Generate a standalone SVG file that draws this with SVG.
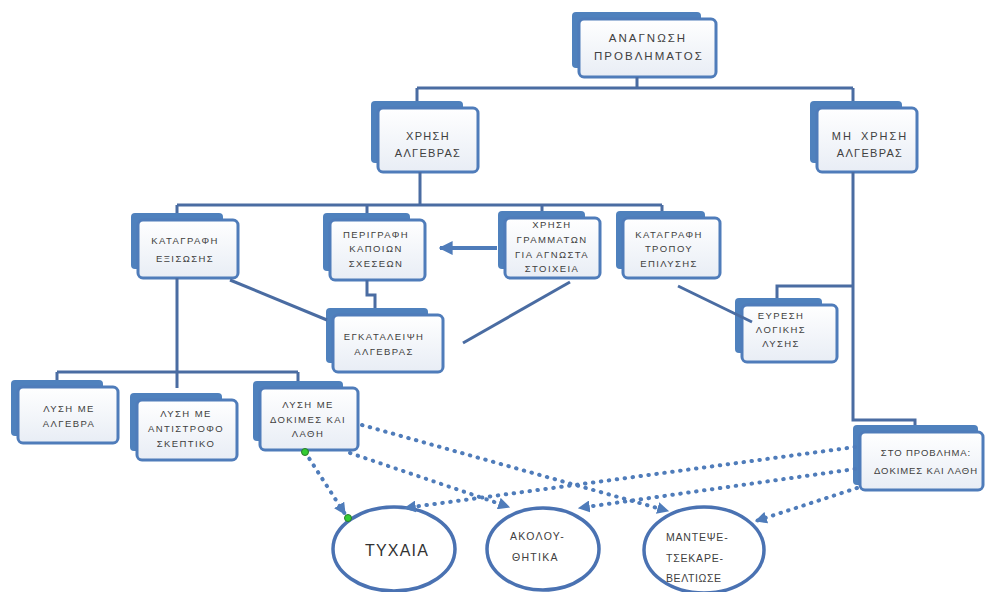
<svg xmlns="http://www.w3.org/2000/svg" width="986" height="592" viewBox="0 0 986 592">
<defs>
<linearGradient id="g" x1="0" y1="0" x2="0" y2="1">
<stop offset="0" stop-color="#ffffff"/>
<stop offset="1" stop-color="#e8edf5"/>
</linearGradient>
<marker id="ah" viewBox="0 0 10 10" refX="9" refY="5" markerWidth="12" markerHeight="12" markerUnits="userSpaceOnUse" orient="auto">
<path d="M0,0 L10,5 L0,10 Z" fill="#4f7cba"/>
</marker>
<marker id="ah2" viewBox="0 0 10 10" refX="9" refY="5" markerWidth="14" markerHeight="14" markerUnits="userSpaceOnUse" orient="auto">
<path d="M0,0 L10,5 L0,10 Z" fill="#4f7cba"/>
</marker>
</defs>
<style>
.bk{fill:#4f81bd}
.fr{fill:url(#g);stroke:#4f7cba;stroke-width:3}
.t{font-family:"Liberation Sans",Arial,sans-serif;fill:#404040;text-anchor:middle}
.t1{font-size:11.5px;letter-spacing:2px}
.t2{font-size:11px;letter-spacing:1.3px}
.t3{font-size:9.5px;letter-spacing:1.4px}
.el{fill:#ffffff;stroke:#4a72b2;stroke-width:3.5}
.te{font-family:"Liberation Sans",Arial,sans-serif;fill:#404040;font-size:10.5px;letter-spacing:1.3px}
.tree{fill:none;stroke:#4a6ca2;stroke-width:3}
.dot{fill:none;stroke:#4f7cba;stroke-width:4;stroke-linecap:round;stroke-dasharray:0.5 7.5;marker-end:url(#ah)}
.hd{fill:#33cc33;stroke:#2a7a2a;stroke-width:1}
</style>
<rect width="986" height="592" fill="#ffffff"/>

<g id="n1">
<rect class="bk" x="572" y="12" width="129" height="56" rx="4"/>
<rect class="fr" x="579" y="19" width="137" height="58" rx="5"/>
<text class="t t1" x="648" y="42">ΑΝΑΓΝΩΣΗ</text>
<text class="t t1" x="649" y="60">ΠΡΟΒΛΗΜΑΤΟΣ</text>
</g>
<g id="n2">
<rect class="bk" x="371" y="101" width="92" height="62" rx="4"/>
<rect class="fr" x="378" y="108" width="100" height="64" rx="5"/>
<text class="t t2" x="428" y="140">ΧΡΗΣΗ</text>
<text class="t t2" x="428" y="157">ΑΛΓΕΒΡΑΣ</text>
</g>
<g id="n3">
<rect class="bk" x="810" y="101" width="92" height="62" rx="4"/>
<rect class="fr" x="817" y="108" width="100" height="64" rx="5"/>
<text class="t t2" x="870" y="140" style="letter-spacing:2px;word-spacing:3px">ΜΗ ΧΡΗΣΗ</text>
<text class="t t2" x="870" y="157">ΑΛΓΕΒΡΑΣ</text>
</g>
<g id="n4">
<rect class="bk" x="131" y="213" width="92" height="56" rx="4"/>
<rect class="fr" x="138" y="220" width="100" height="58" rx="5"/>
<text class="t t3" x="185" y="244">ΚΑΤΑΓΡΑΦΗ</text>
<text class="t t3" x="185" y="262">ΕΞΙΣΩΣΗΣ</text>
</g>
<g id="n5">
<rect class="bk" x="323" y="213" width="87" height="58" rx="4"/>
<rect class="fr" x="330" y="220" width="95" height="60" rx="5"/>
<text class="t t3" x="376" y="238">ΠΕΡΙΓΡΑΦΗ</text>
<text class="t t3" x="376" y="252">ΚΑΠΟΙΩΝ</text>
<text class="t t3" x="376" y="267">ΣΧΕΣΕΩΝ</text>
</g>
<g id="n6">
<rect class="bk" x="498" y="211" width="87" height="58" rx="4"/>
<rect class="fr" x="505" y="218" width="95" height="60" rx="5"/>
<text class="t t3" x="552" y="228">ΧΡΗΣΗ</text>
<text class="t t3" x="552" y="243">ΓΡΑΜΜΑΤΩΝ</text>
<text class="t t3" x="552" y="258">ΓΙΑ ΑΓΝΩΣΤΑ</text>
<text class="t t3" x="552" y="272">ΣΤΟΙΧΕΙΑ</text>
</g>
<g id="n7">
<rect class="bk" x="616" y="211" width="89" height="58" rx="4"/>
<rect class="fr" x="623" y="218" width="97" height="60" rx="5"/>
<text class="t t3" x="669" y="238">ΚΑΤΑΓΡΑΦΗ</text>
<text class="t t3" x="669" y="252">ΤΡΟΠΟΥ</text>
<text class="t t3" x="669" y="267">ΕΠΙΛΥΣΗΣ</text>
</g>
<g id="n8">
<rect class="bk" x="326" y="308" width="102" height="55" rx="4"/>
<rect class="fr" x="333" y="315" width="110" height="57" rx="5"/>
<text class="t t3" x="384" y="340">ΕΓΚΑΤΑΛΕΙΨΗ</text>
<text class="t t3" x="384" y="355">ΑΛΓΕΒΡΑΣ</text>
</g>
<g id="n9">
<rect class="bk" x="735" y="298" width="87" height="55" rx="4"/>
<rect class="fr" x="742" y="305" width="95" height="57" rx="5"/>
<text class="t t3" x="781" y="319">ΕΥΡΕΣΗ</text>
<text class="t t3" x="781" y="333">ΛΟΓΙΚΗΣ</text>
<text class="t t3" x="781" y="347">ΛΥΣΗΣ</text>
</g>
<g id="n10">
<rect class="bk" x="11" y="380" width="92" height="56" rx="4"/>
<rect class="fr" x="18" y="387" width="100" height="56" rx="5"/>
<text class="t t3" x="69" y="412">ΛΥΣΗ ΜΕ</text>
<text class="t t3" x="69" y="427">ΑΛΓΕΒΡΑ</text>
</g>
<g id="n11">
<rect class="bk" x="130" y="393" width="92" height="58" rx="4"/>
<rect class="fr" x="137" y="400" width="100" height="60" rx="5"/>
<text class="t t3" x="186" y="417">ΛΥΣΗ ΜΕ</text>
<text class="t t3" x="186" y="432">ΑΝΤΙΣΤΡΟΦΟ</text>
<text class="t t3" x="186" y="447">ΣΚΕΠΤΙΚΟ</text>
</g>
<g id="n12">
<rect class="bk" x="253" y="381" width="90" height="60" rx="4"/>
<rect class="fr" x="260" y="388" width="98" height="62" rx="5"/>
<text class="t t3" x="308" y="408">ΛΥΣΗ ΜΕ</text>
<text class="t t3" x="308" y="423">ΔΟΚΙΜΕΣ ΚΑΙ</text>
<text class="t t3" x="308" y="437">ΛΑΘΗ</text>
</g>
<g id="n13">
<rect class="bk" x="853" y="425" width="125" height="60" rx="4"/>
<rect class="fr" x="860" y="432" width="123" height="58" rx="5"/>
<text class="t t3" x="926" y="456" style="letter-spacing:0.9px">ΣΤΟ ΠΡΟΒΛΗΜΑ:</text>
<text class="t t3" x="926" y="474" style="letter-spacing:0.9px">ΔΟΚΙΜΕΣ ΚΑΙ ΛΑΘΗ</text>
</g>

<g id="e1">
<ellipse class="el" cx="394" cy="549" rx="61" ry="42"/>
<text class="te" x="397" y="556" text-anchor="middle" style="font-size:16px;fill:#333333;letter-spacing:1.2px">ΤΥΧΑΙΑ</text>
</g>
<g id="e2">
<ellipse class="el" cx="543" cy="549" rx="56" ry="41"/>
<text class="te" x="510" y="540">ΑΚΟΛΟΥ-</text>
<text class="te" x="512" y="561">ΘΗΤΙΚΑ</text>
</g>
<g id="e3">
<ellipse class="el" cx="704" cy="550" rx="60" ry="43"/>
<text class="te" x="666" y="541" style="letter-spacing:0.8px">ΜΑΝΤΕΨΕ-</text>
<text class="te" x="666" y="562" style="letter-spacing:0.8px">ΤΣΕΚΑΡΕ-</text>
<text class="te" x="666" y="582" style="letter-spacing:0.6px">ΒΕΛΤΙΩΣΕ</text>
</g>

<g id="connectors">
<path class="tree" d="M637,77 V88 M417,88 H853 M417,88 V101 M853,88 V101"/>
<path class="tree" d="M420,172 V205 M177,205 H662 M177,205 V213 M367,205 V213 M542,205 V211 M662,205 V211"/>
<path class="tree" d="M853,172 V420 H915 V425 M853,286 H777 V298"/>
<path class="tree" d="M177,278 V388 M57,372 H298 M57,372 V380 M298,372 V381"/>
<path class="tree" d="M367,280 V295 H375 V308"/>
<path class="tree" d="M230,280 L327,320"/>
<path class="tree" d="M570,282 L463,343"/>
<path class="tree" d="M678,286 L752,322"/>
<path fill="none" stroke="#4f7cba" stroke-width="4" marker-end="url(#ah2)" d="M497,248 H440"/>
<path class="dot" d="M305,452 L345,514"/>
<path class="dot" d="M350,453 L509,507"/>
<path class="dot" d="M362,425 L668,511"/>
<path class="dot" d="M855,447 L405,508"/>
<path class="dot" d="M855,469 L579,508"/>
<path class="dot" d="M857,488 L756,521"/>
<circle class="hd" cx="305" cy="452" r="3.5"/>
<circle class="hd" cx="348" cy="518" r="3.5"/>
</g>
</svg>
